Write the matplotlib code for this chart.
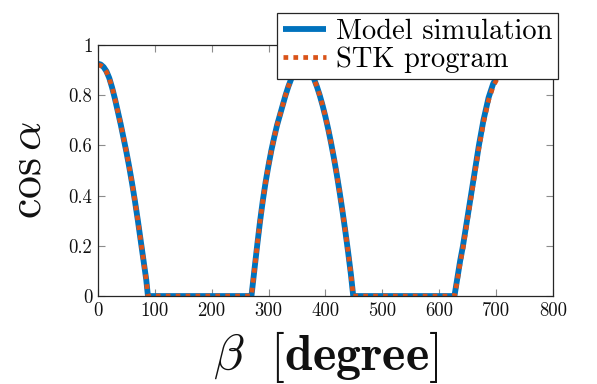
import matplotlib
matplotlib.use('Agg')
import matplotlib.pyplot as plt

plt.rcParams['font.family'] = 'cmr10'
plt.rcParams['mathtext.fontset'] = 'cm'
plt.rcParams['axes.unicode_minus'] = False

# values (beta in degree, cos(alpha))
beta = [0, 5, 10, 15, 20, 25, 30, 35, 40, 45, 50, 55, 60, 65, 70, 75, 80, 85, 88,
        150, 220, 270,
        275, 280, 285, 290, 295, 300, 305, 310, 315, 320, 325, 330, 335, 340, 345,
        350, 355, 360,
        365, 370, 375, 380, 385, 390, 395, 400, 405, 410, 415, 420, 425, 430, 435,
        440, 445, 449,
        520, 580, 627,
        632, 637, 642, 649, 656, 663, 670, 678, 687, 695, 702, 710, 716]
model = [0.925, 0.922, 0.912, 0.895, 0.868, 0.83, 0.785, 0.735, 0.685, 0.63, 0.575,
         0.515, 0.45, 0.38, 0.305, 0.225, 0.145, 0.065, 0.0,
         0.0, 0.0, 0.0,
         0.10, 0.20, 0.295, 0.38, 0.455, 0.52, 0.58, 0.632, 0.68, 0.72, 0.76, 0.80,
         0.835, 0.865, 0.89, 0.91, 0.92, 0.925,
         0.92, 0.907, 0.89, 0.865, 0.835, 0.80, 0.76, 0.715, 0.665, 0.61, 0.55, 0.485,
         0.415, 0.34, 0.26, 0.175, 0.085, 0.0,
         0.0, 0.0, 0.0,
         0.07, 0.14, 0.20, 0.30, 0.40, 0.50, 0.60, 0.70, 0.79, 0.845, 0.875, 0.905,
         0.92]
stk = [0.92, 0.918, 0.91, 0.893, 0.866, 0.83, 0.785, 0.735, 0.685, 0.63, 0.575,
       0.515, 0.45, 0.38, 0.305, 0.225, 0.145, 0.065, 0.0,
       0.0, 0.0, 0.0,
       0.10, 0.20, 0.295, 0.38, 0.455, 0.52, 0.58, 0.632, 0.68, 0.72, 0.76, 0.80,
       0.835, 0.865, 0.89, 0.905, 0.915, 0.92,
       0.915, 0.903, 0.887, 0.863, 0.835, 0.80, 0.76, 0.715, 0.665, 0.61, 0.55, 0.485,
       0.415, 0.34, 0.26, 0.175, 0.085, 0.0,
       0.0, 0.0, 0.0,
       0.06, 0.13, 0.19, 0.29, 0.39, 0.49, 0.59, 0.69, 0.78, 0.835, 0.865, 0.895,
       0.91]

xticks = [0, 100, 200, 300, 400, 500, 600, 700, 800]
yticks = [0, 0.2, 0.4, 0.6, 0.8, 1]
ytick_labels = ['0', '0.2', '0.4', '0.6', '0.8', '1']

fig = plt.figure(figsize=(5.97, 3.84), dpi=100)
ax = fig.add_axes([0.164, 0.229, 0.762, 0.654])

ax.plot(beta, model, color='#0072BD', lw=4.2, solid_capstyle='butt',
        solid_joinstyle='round', label='Model simulation')
ax.plot(beta, stk, color='#D95319', lw=3.4, linestyle=(0, (1, 1.1)),
        dash_capstyle='butt', label='STK program')

ax.set_xlim(0, 800)
ax.set_ylim(0, 1)
ax.set_xticks(xticks)
ax.set_xticklabels([str(t) for t in xticks])
ax.set_yticks(yticks)
ax.set_yticklabels(ytick_labels)
ax.tick_params(direction='in', top=True, right=True, length=5, width=0.8,
               color='#8c8c8c', labelsize=13.5, labelcolor='#111111', pad=4)
for s in ax.spines.values():
    s.set_color('#262626')
    s.set_linewidth(0.9)

ax.set_xlabel(r'$\beta\ \ \mathbf{[degree]}$', fontsize=36, color='#111111', labelpad=7)
ax.set_ylabel(r'$\cos\alpha$', fontsize=33, color='#111111', labelpad=14)

leg = ax.legend(loc='upper right', bbox_to_anchor=(1.011, 1.127), fontsize=20.5,
                frameon=True, fancybox=False, framealpha=1, edgecolor='#262626',
                handlelength=1.5, handletextpad=0.35, labelspacing=0.05,
                borderpad=0.2, borderaxespad=0)
leg.get_frame().set_linewidth(0.9)

fig.savefig('out.png', dpi=100)
